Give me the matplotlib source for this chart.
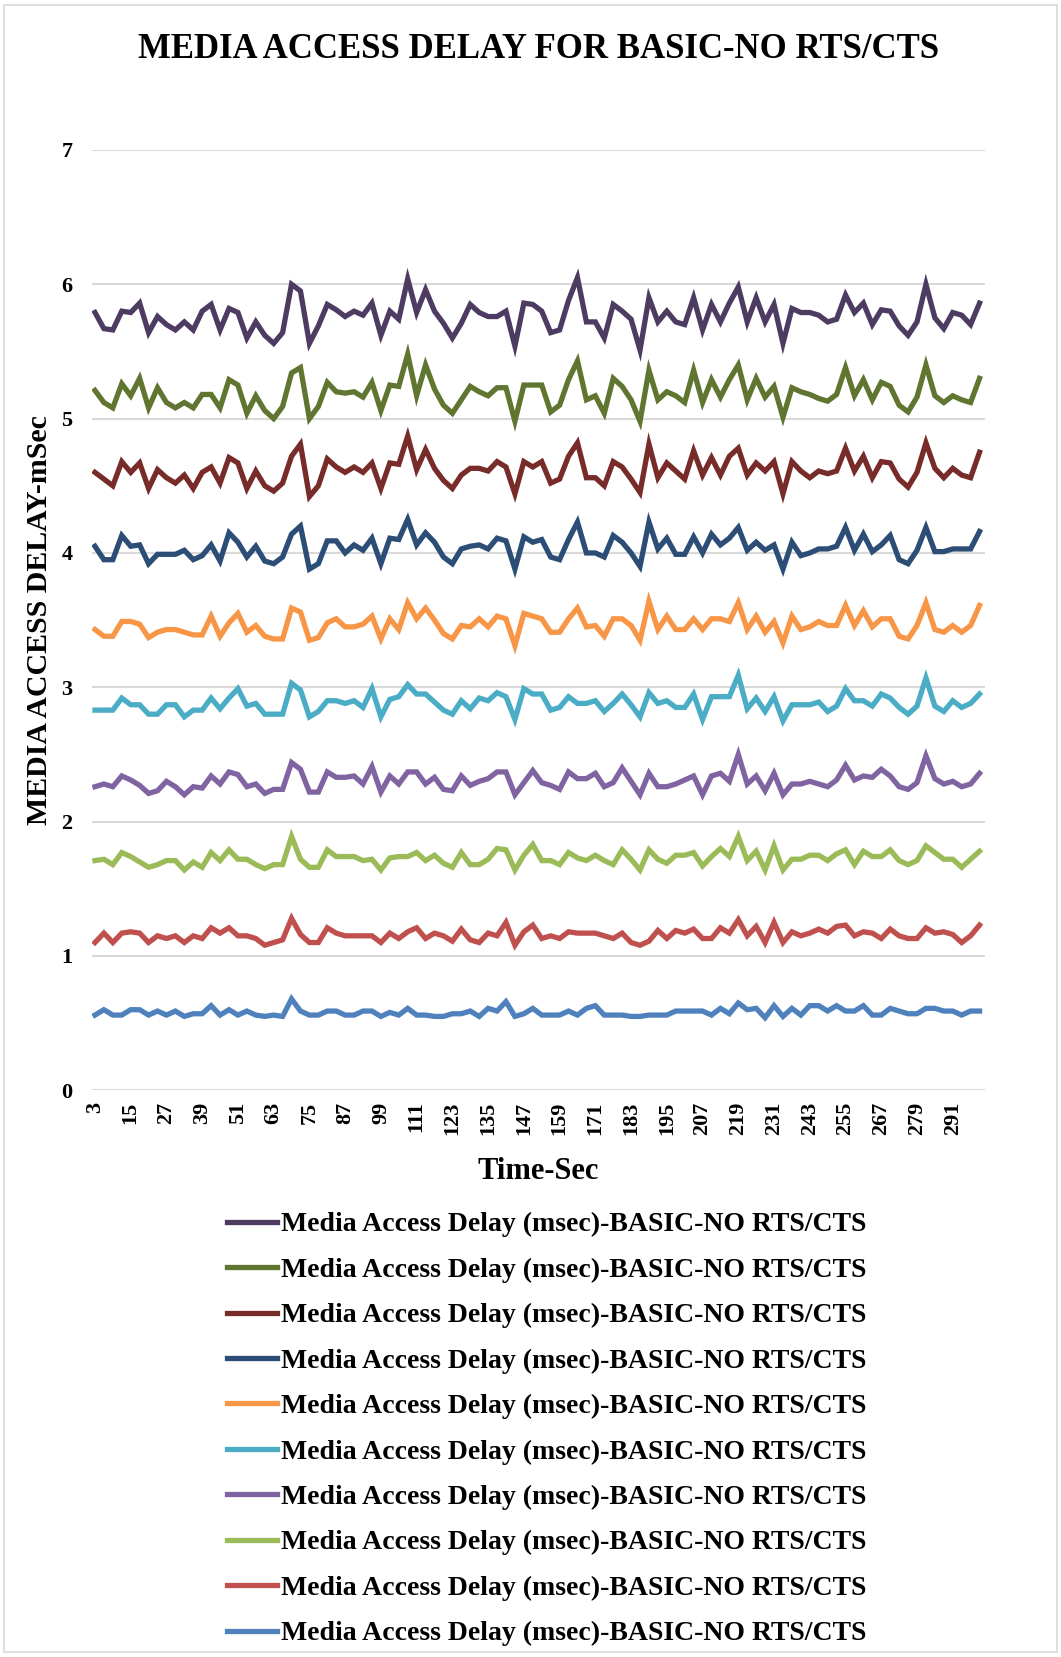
import matplotlib
matplotlib.use('Agg')
import matplotlib.pyplot as plt
from matplotlib.patches import Rectangle

plt.rcParams['font.family'] = ['Liberation Serif', 'DejaVu Serif']
plt.rcParams['font.weight'] = 'bold'

# time axis, every 3 sec
seconds = list(range(3, 301, 3))
tick_labels = list(range(3, 292, 12))

# plotted (stacked) levels of the ten series, bottom to top
s1 = [0.56, 0.60, 0.56, 0.56, 0.60, 0.60, 0.56, 0.59, 0.56, 0.59, 0.55, 0.57, 0.57, 0.63, 0.56, 0.60, 0.56, 0.59, 0.56, 0.55,
      0.56, 0.55, 0.68, 0.59, 0.56, 0.56, 0.59, 0.59, 0.56, 0.56, 0.59, 0.59, 0.55,
      0.58, 0.56, 0.61, 0.56, 0.56, 0.55, 0.55, 0.57, 0.57, 0.59, 0.55, 0.61, 0.59, 0.66, 0.55, 0.57, 0.61, 0.56, 0.56, 0.56,
      0.59, 0.56, 0.61, 0.63, 0.56, 0.56, 0.56, 0.55, 0.55, 0.56, 0.56, 0.56, 0.59, 0.59, 0.59,
      0.59, 0.56, 0.61, 0.57, 0.65, 0.60, 0.61, 0.54, 0.63, 0.55, 0.61, 0.56, 0.63, 0.63, 0.59, 0.63, 0.59, 0.59, 0.63, 0.56,
      0.56, 0.61, 0.59, 0.57, 0.57, 0.61, 0.61, 0.59, 0.59, 0.56, 0.59, 0.59]
s2 = [1.10, 1.17, 1.10, 1.17, 1.18, 1.17, 1.10, 1.15, 1.13, 1.15, 1.10, 1.15, 1.13, 1.21, 1.17, 1.21, 1.15, 1.15, 1.13, 1.08,
      1.10, 1.12, 1.28, 1.16, 1.10, 1.10, 1.21, 1.17, 1.15, 1.15, 1.15, 1.15, 1.10,
      1.17, 1.13, 1.18, 1.21, 1.13, 1.17, 1.15, 1.11, 1.20, 1.12, 1.10, 1.17, 1.15, 1.25, 1.08, 1.18, 1.23, 1.13, 1.15, 1.13,
      1.18, 1.17, 1.17, 1.17, 1.15, 1.13, 1.17, 1.10, 1.08, 1.11, 1.19, 1.13, 1.19, 1.17, 1.20,
      1.13, 1.13, 1.21, 1.17, 1.27, 1.15, 1.22, 1.10, 1.25, 1.10, 1.18, 1.15, 1.17, 1.20, 1.17, 1.22, 1.23, 1.15, 1.18, 1.17,
      1.13, 1.20, 1.15, 1.13, 1.13, 1.21, 1.17, 1.18, 1.16, 1.10, 1.15, 1.23]
s3 = [1.71, 1.72, 1.68, 1.77, 1.74, 1.70, 1.66, 1.68, 1.71, 1.71, 1.64, 1.70, 1.66, 1.77, 1.71, 1.79, 1.72, 1.72, 1.68, 1.65,
      1.68, 1.68, 1.89, 1.72, 1.66, 1.66, 1.79, 1.74, 1.74, 1.74, 1.71, 1.72, 1.64,
      1.73, 1.74, 1.74, 1.77, 1.71, 1.75, 1.69, 1.66, 1.77, 1.68, 1.68, 1.72, 1.80, 1.79, 1.64, 1.75, 1.83, 1.71, 1.71, 1.68,
      1.77, 1.73, 1.71, 1.75, 1.71, 1.68, 1.79, 1.72, 1.64, 1.79, 1.72, 1.69, 1.75, 1.75, 1.77,
      1.67, 1.74, 1.80, 1.74, 1.89, 1.71, 1.78, 1.64, 1.82, 1.64, 1.72, 1.72, 1.75, 1.75, 1.71, 1.76, 1.79, 1.68, 1.78, 1.74,
      1.74, 1.79, 1.71, 1.68, 1.71, 1.82, 1.77, 1.72, 1.72, 1.66, 1.72, 1.78]
s4 = [2.26, 2.28, 2.26, 2.34, 2.31, 2.27, 2.21, 2.23, 2.30, 2.26, 2.20, 2.26, 2.25, 2.34, 2.28, 2.37, 2.35, 2.26, 2.28, 2.21,
      2.24, 2.24, 2.44, 2.39, 2.22, 2.22, 2.37, 2.33, 2.33, 2.34, 2.28, 2.41, 2.22,
      2.34, 2.28, 2.37, 2.37, 2.28, 2.33, 2.24, 2.23, 2.34, 2.27, 2.30, 2.32, 2.37, 2.37, 2.20, 2.29, 2.38, 2.29, 2.27, 2.24,
      2.37, 2.32, 2.32, 2.36, 2.26, 2.29, 2.40, 2.30, 2.20, 2.36, 2.26, 2.26, 2.28, 2.31, 2.34,
      2.20, 2.34, 2.36, 2.30, 2.50, 2.28, 2.34, 2.23, 2.36, 2.20, 2.28, 2.28, 2.30, 2.28, 2.26, 2.31, 2.42, 2.31, 2.34, 2.33,
      2.39, 2.34, 2.26, 2.24, 2.29, 2.49, 2.32, 2.28, 2.30, 2.26, 2.28, 2.36]
s5 = [2.83, 2.83, 2.83, 2.92, 2.87, 2.87, 2.80, 2.80, 2.87, 2.87, 2.78, 2.83, 2.83, 2.92, 2.84, 2.92, 2.99, 2.86, 2.88, 2.80,
      2.80, 2.80, 3.03, 2.98, 2.78, 2.82, 2.90, 2.90, 2.88, 2.90, 2.85, 2.99, 2.78,
      2.91, 2.93, 3.02, 2.95, 2.95, 2.89, 2.83, 2.80, 2.90, 2.84, 2.92, 2.90, 2.96, 2.93, 2.76, 2.99, 2.95, 2.95, 2.83, 2.85,
      2.93, 2.88, 2.88, 2.90, 2.82, 2.88, 2.95, 2.87, 2.78, 2.96, 2.88, 2.90, 2.85, 2.85, 2.95,
      2.76, 2.93, 2.93, 2.93, 3.09, 2.84, 2.92, 2.82, 2.93, 2.75, 2.87, 2.87, 2.87, 2.89, 2.82, 2.86, 2.99, 2.90, 2.90, 2.86,
      2.95, 2.92, 2.85, 2.80, 2.86, 3.07, 2.86, 2.82, 2.90, 2.85, 2.88, 2.95]
s6 = [3.43, 3.38, 3.38, 3.49, 3.49, 3.47, 3.37, 3.41, 3.43, 3.43, 3.41, 3.39, 3.39, 3.53, 3.38, 3.48, 3.55, 3.41, 3.46, 3.38,
      3.36, 3.36, 3.59, 3.56, 3.35, 3.37, 3.48, 3.51, 3.45, 3.45, 3.47, 3.53, 3.36, 3.51,
      3.43, 3.63, 3.51, 3.59, 3.50, 3.40, 3.36, 3.46, 3.45, 3.51, 3.45, 3.53, 3.51, 3.31, 3.55, 3.53, 3.51, 3.41, 3.41, 3.51,
      3.59, 3.45, 3.46, 3.38, 3.51, 3.51, 3.46, 3.35, 3.64, 3.43, 3.53, 3.43, 3.43, 3.51,
      3.43, 3.51, 3.51, 3.49, 3.63, 3.43, 3.53, 3.41, 3.49, 3.33, 3.53, 3.43, 3.45, 3.49, 3.46, 3.46, 3.61, 3.46, 3.57, 3.45,
      3.51, 3.51, 3.38, 3.36, 3.46, 3.63, 3.43, 3.41, 3.46, 3.41, 3.46, 3.61]
s7 = [4.05, 3.95, 3.95, 4.13, 4.05, 4.06, 3.92, 3.99, 3.99, 3.99, 4.02, 3.95, 3.98, 4.06, 3.94, 4.15, 4.08, 3.97, 4.05, 3.94,
      3.92, 3.97, 4.14, 4.20, 3.88, 3.92, 4.09, 4.09, 4.00, 4.06, 4.02, 4.11, 3.92, 4.11,
      4.10, 4.25, 4.06, 4.15, 4.08, 3.97, 3.92, 4.03, 4.05, 4.06, 4.03, 4.11, 4.09, 3.88, 4.12, 4.08, 4.10, 3.97, 3.95, 4.10,
      4.23, 4.00, 4.00, 3.97, 4.13, 4.08, 4.00, 3.90, 4.23, 4.03, 4.11, 3.99, 3.99, 4.12,
      4.00, 4.14, 4.06, 4.11, 4.19, 4.02, 4.08, 4.02, 4.06, 3.88, 4.08, 3.98, 4.00, 4.03, 4.03, 4.05, 4.19, 4.02, 4.14, 4.01,
      4.06, 4.13, 3.95, 3.92, 4.02, 4.19, 4.01, 4.01, 4.03, 4.03, 4.03, 4.16]
s8 = [4.60, 4.55, 4.50, 4.68, 4.60, 4.67, 4.48, 4.62, 4.56, 4.52, 4.58, 4.48, 4.60, 4.64, 4.52, 4.71, 4.67, 4.48, 4.61, 4.50,
      4.46, 4.52, 4.72, 4.81, 4.42, 4.50, 4.70, 4.64, 4.60, 4.64, 4.60, 4.67, 4.48, 4.67,
      4.66, 4.87, 4.62, 4.77, 4.63, 4.54, 4.48, 4.58, 4.63, 4.63, 4.61, 4.68, 4.64, 4.44, 4.68, 4.64, 4.68, 4.52, 4.55, 4.72,
      4.82, 4.56, 4.56, 4.50, 4.68, 4.64, 4.55, 4.45, 4.81, 4.56, 4.67, 4.61, 4.55, 4.76,
      4.58, 4.71, 4.58, 4.72, 4.78, 4.58, 4.67, 4.61, 4.68, 4.44, 4.68, 4.61, 4.56, 4.61, 4.59, 4.61, 4.78, 4.61, 4.72, 4.56,
      4.68, 4.67, 4.55, 4.49, 4.60, 4.82, 4.63, 4.56, 4.63, 4.58, 4.56, 4.75]
s9 = [5.21, 5.12, 5.08, 5.26, 5.17, 5.30, 5.08, 5.23, 5.12, 5.08, 5.12, 5.08, 5.18, 5.18, 5.08, 5.29, 5.25, 5.04, 5.17, 5.06,
      5.00, 5.09, 5.34, 5.38, 5.00, 5.09, 5.27, 5.20, 5.19, 5.20, 5.16, 5.27, 5.06, 5.25,
      5.24, 5.48, 5.17, 5.40, 5.22, 5.10, 5.04, 5.14, 5.24, 5.20, 5.17, 5.23, 5.23, 4.98, 5.25, 5.25, 5.25, 5.05, 5.10, 5.29,
      5.43, 5.14, 5.17, 5.04, 5.30, 5.24, 5.14, 4.98, 5.36, 5.14, 5.20, 5.17, 5.12, 5.36,
      5.12, 5.29, 5.16, 5.29, 5.40, 5.14, 5.30, 5.16, 5.24, 5.01, 5.23, 5.20, 5.18, 5.15, 5.13, 5.18, 5.38, 5.17, 5.29, 5.14,
      5.27, 5.24, 5.10, 5.05, 5.16, 5.40, 5.17, 5.12, 5.17, 5.14, 5.12, 5.30]
s10 = [5.79, 5.67, 5.66, 5.80, 5.79, 5.86, 5.64, 5.76, 5.70, 5.66, 5.72, 5.66, 5.80, 5.85, 5.66, 5.82, 5.79, 5.60, 5.72, 5.62,
       5.56, 5.64, 6.00, 5.95, 5.56, 5.69, 5.85, 5.81, 5.76, 5.80, 5.77, 5.86, 5.62, 5.80,
       5.74, 6.04, 5.79, 5.96, 5.80, 5.71, 5.60, 5.71, 5.85, 5.79, 5.76, 5.76, 5.80, 5.54, 5.86, 5.85, 5.80, 5.64, 5.66, 5.88,
       6.05, 5.72, 5.72, 5.60, 5.85, 5.80, 5.74, 5.51, 5.90, 5.72, 5.80, 5.72, 5.70, 5.90,
       5.66, 5.85, 5.72, 5.86, 5.98, 5.72, 5.90, 5.72, 5.85, 5.56, 5.82, 5.79, 5.79, 5.77, 5.72, 5.74, 5.92, 5.79, 5.86, 5.70,
       5.81, 5.80, 5.69, 5.62, 5.72, 6.00, 5.75, 5.67, 5.79, 5.77, 5.70, 5.86]

series = [s1, s2, s3, s4, s5, s6, s7, s8, s9, s10]
colors = ['#4F81BD', '#C0504D', '#9BBB59', '#8064A2', '#4BACC6',
          '#F79646', '#2C4D75', '#772C2A', '#5F7530', '#4D3B62']
label = 'Media Access Delay (msec)-BASIC-NO RTS/CTS'

fig = plt.figure(figsize=(10.61, 16.57), dpi=100)
fig.patches.append(Rectangle((0.004, 0.003), 0.992, 0.994, transform=fig.transFigure,
                             fill=False, edgecolor='#D9D9D9', linewidth=1.2))

ax = fig.add_axes([0.0867, 0.342, 0.8413, 0.5675])
lines = []
for s, c in zip(series, colors):
    ln, = ax.plot(seconds, s, color=c, linewidth=3.8, solid_joinstyle='miter')
    lines.append(ln)

ax.set_ylim(0, 7)
ax.set_xlim(2.0, 301.7)
ax.set_yticks(range(0, 8))
ax.set_xticks(tick_labels)
ax.set_xticklabels([str(t) for t in tick_labels], rotation=90, fontsize=16, fontweight='bold')
for t in ax.get_yticklabels():
    t.set_fontsize(16)
    t.set_fontweight('bold')
ax.tick_params(length=0, pad=14)
ax.tick_params(axis='x', pad=8)
ax.grid(axis='y', color='#D9D9D9', linewidth=1.5)
ax.set_axisbelow(True)
for sp in ax.spines.values():
    sp.set_visible(False)

ax.set_xlabel('Time-Sec', fontsize=22, fontweight='bold', labelpad=16)
ax.set_ylabel('MEDIA ACCESS DELAY-mSec', fontsize=21.5, fontweight='bold', labelpad=6)
fig.text(0.508, 1 - 50 / 1657, 'MEDIA ACCESS DELAY FOR BASIC-NO RTS/CTS',
         ha='center', va='center', fontsize=25, fontweight='bold')

fig.legend(lines[::-1], [label] * 10, loc='upper left', bbox_to_anchor=(0.201, 1 - 1198 / 1657),
           frameon=False, fontsize=20, handlelength=1.8, handletextpad=0.15,
           labelspacing=0.72, borderpad=0)

fig.savefig('out.png', dpi=100)
